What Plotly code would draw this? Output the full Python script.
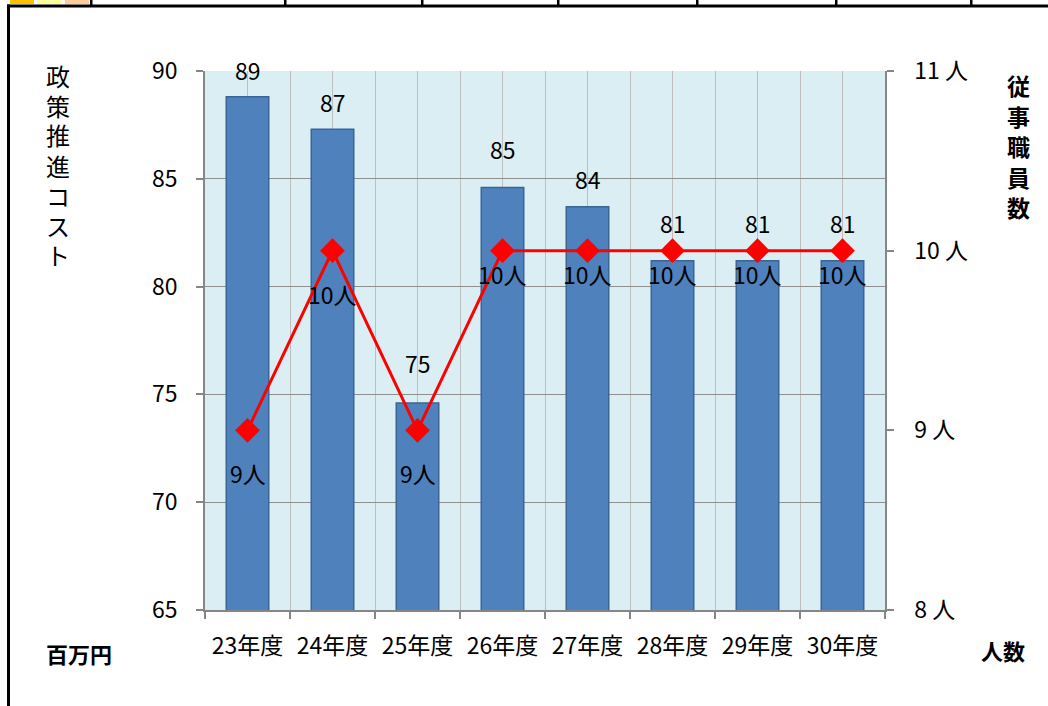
import plotly.graph_objects as go

# ---- data ----
categories = ["23年度", "24年度", "25年度", "26年度", "27年度", "28年度", "29年度", "30年度"]
cost_values = [88.8, 87.3, 74.6, 84.6, 83.7, 81.2, 81.2, 81.2]   # 百万円
staff_values = [9, 10, 9, 10, 10, 10, 10, 10]                    # 人
left_ticks = [65, 70, 75, 80, 85, 90]
right_ticks = [8, 9, 10, 11]
left_title = "政策推進コスト"
right_title = "従事職員数"

# ---- layout / style (not data) ----
W, H = 1048, 706
PL, PR, PT, PB = 205, 885, 71, 610          # plot area in pixels
FONT = "Noto Sans CJK JP"
FS = 23
bar_label_shift = [27, 27, 40, 38, 28, 38, 38, 38]
line_label_shift = [-43, -43, -43, -23, -23, -23, -23, -23]

def px(x):
    return (x - PL) / (PR - PL)

def py(y):
    return (PB - y) / (PB - PT)

xs = list(range(len(categories)))

fig = go.Figure()
fig.add_trace(go.Bar(
    x=xs, y=cost_values, width=0.5,
    marker=dict(color="#4F81BD", line=dict(color="#3B6593", width=1.5)),
    yaxis="y", showlegend=False, hoverinfo="skip",
))
fig.add_trace(go.Scatter(
    x=xs, y=staff_values, yaxis="y2", mode="lines+markers",
    line=dict(color="#FF0000", width=3),
    marker=dict(symbol="diamond", size=19, color="#FF0000"),
    showlegend=False, hoverinfo="skip",
))

annotations = []
for i, v in enumerate(cost_values):
    annotations.append(dict(
        x=xs[i], y=v, xref="x", yref="y", text=f"{v:.0f}", showarrow=False,
        yshift=bar_label_shift[i], font=dict(family=FONT, size=FS, color="#000000"),
    ))
for i, v in enumerate(staff_values):
    annotations.append(dict(
        x=xs[i], y=v, xref="x", yref="y2", text=f"{v}人", showarrow=False,
        yshift=line_label_shift[i], font=dict(family=FONT, size=FS, color="#000000"),
    ))

# vertical axis titles, one character per row
for k, ch in enumerate(left_title):
    annotations.append(dict(
        x=px(58), y=py(75 + 30 * k), xref="paper", yref="paper", showarrow=False,
        text=ch, font=dict(family=FONT, size=24, color="#000"),
        xanchor="center", yanchor="middle"))
for k, ch in enumerate(right_title):
    annotations.append(dict(
        x=px(1018), y=py(85 + 30.5 * k), xref="paper", yref="paper", showarrow=False,
        text=f"<b>{ch}</b>", font=dict(family=FONT, size=23, color="#000"),
        xanchor="center", yanchor="middle"))

annotations += [
    dict(x=px(79), y=py(653), xref="paper", yref="paper", showarrow=False,
         text="<b>百万円</b>", font=dict(family=FONT, size=22, color="#000"),
         xanchor="center", yanchor="middle"),
    dict(x=px(1003), y=py(650), xref="paper", yref="paper", showarrow=False,
         text="<b>人数</b>", font=dict(family=FONT, size=22, color="#000"),
         xanchor="center", yanchor="middle"),
]

# spreadsheet decorations around chart
shapes = []
def rect(x0, y0, x1, y1, color):
    shapes.append(dict(type="rect", xref="paper", yref="paper",
                       x0=px(x0), x1=px(x1), y0=py(y1), y1=py(y0),
                       fillcolor=color, line=dict(width=0), layer="above"))

rect(10, 0, 34, 4, "#FFC000")
rect(37, 0, 62, 4, "#FFFF99")
rect(65, 0, 89, 4, "#FFCC99")
rect(7, 4.5, 1048, 7.5, "#000000")
rect(7, 4.5, 10, 706, "#000000")
for dx in [90, 284, 421, 557, 696, 835, 970]:
    rect(dx, 0, dx + 2.5, 6, "#000000")

fig.update_layout(
    width=W, height=H,
    margin=dict(l=PL, r=W - PR, t=PT, b=H - PB, pad=0),
    paper_bgcolor="#FFFFFF", plot_bgcolor="#DBEEF4",
    font=dict(family=FONT, size=FS, color="#000000"),
    xaxis=dict(
        range=[-0.5, len(categories) - 0.5],
        tickmode="array", tickvals=xs, ticktext=categories,
        ticks="", showgrid=True, gridcolor="#BEBEBE", gridwidth=1,
        showline=True, linecolor="#868686", linewidth=2,
        tickfont=dict(family=FONT, size=FS, color="#000"),
        ticklabelstandoff=14,
        minor=dict(tick0=-0.5, dtick=1, ticks="outside", ticklen=7,
                   tickcolor="#868686", tickwidth=1.5,
                   showgrid=True, gridcolor="#BEBEBE", gridwidth=1),
        zeroline=False, fixedrange=True,
    ),
    yaxis=dict(
        range=[65, 90], tickmode="array", tickvals=left_ticks,
        ticks="outside", ticklen=7, tickcolor="#868686", tickwidth=1.5,
        showgrid=True, gridcolor="#8E8E8E", gridwidth=1,
        showline=True, linecolor="#868686", linewidth=1.5,
        tickfont=dict(family=FONT, size=FS, color="#000"),
        ticklabelstandoff=14, zeroline=False,
    ),
    yaxis2=dict(
        range=[8, 11], tickmode="array", tickvals=right_ticks,
        ticktext=[f"{v} 人" for v in right_ticks], overlaying="y", side="right",
        ticks="outside", ticklen=7, tickcolor="#868686", tickwidth=1.5,
        showgrid=False, showline=True, linecolor="#868686", linewidth=1.5,
        tickfont=dict(family=FONT, size=FS, color="#000"),
        ticklabelstandoff=16, zeroline=False,
    ),
    annotations=annotations,
    shapes=shapes,
)

fig.write_html("out.html")
